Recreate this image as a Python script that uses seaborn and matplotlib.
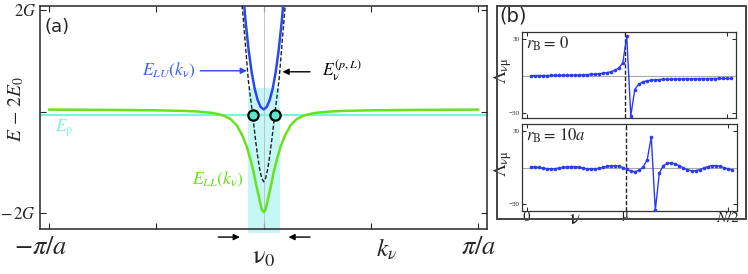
import numpy as np
import pandas as pd
import matplotlib
matplotlib.use('Agg')
import matplotlib.pyplot as plt
import seaborn as sns
from matplotlib.patches import Rectangle

sns.set_style('ticks')
plt.rcParams['font.family'] = ['Liberation Serif', 'DejaVu Serif']
plt.rcParams['mathtext.fontset'] = 'stix'

# ---------------- Panel (a) data (k >= 0 half, curves are symmetric about nu0) -------------
k_LL = [0, 0.026, 0.054, 0.103, 0.147, 0.191, 0.25, 0.308, 0.396, 0.484, 0.587, 0.734, 0.954, 1.174, 1.615, 2.202, 3.142]
E_LL = [-1.980, -1.937, -1.777, -1.482, -1.192, -0.956, -0.680, -0.483, -0.266, -0.148, -0.079, -0.030, 0.0, 0.014, 0.026, 0.033, 0.039]
k_LU = [0, 0.044, 0.088, 0.132, 0.176, 0.220, 0.264, 0.294]
E_LU = [0.043, 0.089, 0.227, 0.453, 0.778, 1.212, 1.764, 2.236]
k_pL = [0, 0.029, 0.059, 0.088, 0.117, 0.161, 0.225, 0.314, 0.33]
E_pL = [-1.383, -1.310, -1.133, -0.877, -0.581, -0.069, 0.621, 2.079, 2.4]
E_rho = -0.069
k_cross = 0.161
band_k = 0.235
band_top, band_bottom = 0.463, -2.394

# ---------------- Panel (b) data -------------
nu = np.arange(1, 52)
mu = 24.6
lam_rB0 = [0.3, 0.3, 0.35, 0.4, 0.4, 0.45, 0.5, 0.5, 0.55, 0.6, 0.7, 0.75, 0.85, 0.95, 1.1, 1.3, 1.5,
           1.8, 2.2, 2.7, 3.4, 4.5, 6.5, 10.5, 32, -32, -11, -6.5, -4.8, -3.9, -3.4, -3.1, -2.9, -2.7,
           -2.6, -2.5, -2.4, -2.35, -2.3, -2.25, -2.2, -2.2, -2.15, -2.1, -2.1, -2.05, -2.05, -2.0,
           -2.0, -2.0, -2.0]
lam_rB10 = [0.6, 0.5, 0.1, -0.4, -0.9, -1.1, -1.0, -0.5, 0.1, 0.6, 0.8, 0.7, 0.3, -0.4, -1.0, -1.2,
            -1.1, -0.6, 0.2, 0.9, 1.4, 1.5, 1.1, 0.0, -1.5, -3.0, -3.3, -2.2, 0.5, 6.5, 25, -35, -4.5,
            1.5, 3.5, 3.7, 3.0, 1.5, -0.3, -1.8, -2.6, -2.6, -1.8, -0.5, 0.8, 1.5, 1.6, 1.0, 0.0,
            -1.0, -1.8]


def mirror(k, e):
    k = np.asarray(k, float)
    e = np.asarray(e, float)
    return np.concatenate([-k[::-1], k[1:]]), np.concatenate([e[::-1], e[1:]])


green = '#66e31a'
blue = '#2a48f0'
cyan_line = '#7ff0dc'
cyan_band = '#c5f7f7'

fig = plt.figure(figsize=(7.48, 2.74), dpi=100)

# ---------------- Panel (a) -------------
ax = fig.add_axes([0.0535, 0.164, 0.598, 0.814])
ax.set_xlim(-1.042 * np.pi, 1.042 * np.pi)
ax.set_ylim(-2.315, 2.08)

ax.add_patch(Rectangle((-band_k, band_bottom), 2 * band_k, band_top - band_bottom,
                       facecolor=cyan_band, edgecolor='none', zorder=0, clip_on=False))
ax.axvline(0, color='#bbbbbb', lw=0.6, zorder=1)
ax.axhline(E_rho, color=cyan_line, lw=1.6, zorder=2)

kx, ey = mirror(k_LL, E_LL)
sns.lineplot(x=kx, y=ey, ax=ax, color=green, lw=1.8, zorder=3)
kx, ey = mirror(k_pL, E_pL)
sns.lineplot(x=kx, y=ey, ax=ax, color='#222222', lw=1.0, zorder=4, linestyle=(0, (3, 1.5)))
kx, ey = mirror(k_LU, E_LU)
sns.lineplot(x=kx, y=ey, ax=ax, color=blue, lw=1.8, zorder=5)
ax.scatter([-k_cross, k_cross], [E_rho, E_rho], s=55, facecolor='#5fe3cc',
           edgecolor='black', linewidth=1.6, zorder=6)

ax.set_xticks([-np.pi, -np.pi / 2, 0, np.pi / 2, np.pi])
ax.set_xticklabels([])
ax.set_yticks([2, 0, -2])
ax.set_yticklabels(['$2G$', '', r'$-\,2G$'], fontsize=12)
ax.tick_params(direction='in', length=4, width=0.8, top=True, right=True, pad=3)
for s in ax.spines.values():
    s.set_linewidth(1.1)
ax.set_xlabel('')
ax.set_ylabel('')
fig.text(0.021, 0.60, r'$E\,-\,2E_0$', rotation=90, fontsize=14, ha='center', va='center')

tr = ax.get_xaxis_transform()
ax.text(-np.pi - 0.13, -0.085, r'$-\pi/a$', transform=tr, ha='center', va='center', fontsize=19)
ax.text(np.pi, -0.085, r'$\pi/a$', transform=tr, ha='center', va='center', fontsize=19)
ax.text(0, -0.13, r'$\mathrm{\nu}_0$', transform=tr, ha='center', va='center', fontsize=19)
ax.text(1.80, -0.09, r'$k_\nu$', transform=tr, ha='center', va='center', fontsize=18)

arr_y = -2.473
ax.annotate('', xy=(-0.308, arr_y), xytext=(-0.705, arr_y), annotation_clip=False,
            arrowprops=dict(arrowstyle='-|>', color='black', lw=1.0, mutation_scale=9))
ax.annotate('', xy=(0.323, arr_y), xytext=(0.719, arr_y), annotation_clip=False,
            arrowprops=dict(arrowstyle='-|>', color='black', lw=1.0, mutation_scale=9))

ax.annotate('', xy=(-0.206, 0.804), xytext=(-0.969, 0.804),
            arrowprops=dict(arrowstyle='-|>', color=blue, lw=1.0, mutation_scale=9))
ax.text(-0.99, 0.804, r'$E_{LU}(k_\mathrm{\nu})$', color='#3d5cf5', ha='right', va='center', fontsize=12.5)
ax.annotate('', xy=(0.235, 0.784), xytext=(0.719, 0.784),
            arrowprops=dict(arrowstyle='-|>', color='black', lw=1.0, mutation_scale=9))
ax.text(0.85, 0.80, r'$E_\mathrm{\nu}^{(p,L)}$', color='black', ha='left', va='center', fontsize=12.5)
ax.text(-3.06, -0.33, r'$E_\mathrm{\rho}$', color=cyan_line, ha='left', va='center', fontsize=12.5)
ax.text(-0.29, -1.33, r'$E_{LL}(k_\mathrm{\nu})$', color=green, ha='right', va='center', fontsize=12.5)

fig.text(0.06, 0.90, '(a)', family='DejaVu Sans', fontsize=13, ha='left', va='center')

# ---------------- Panel (b) -------------
fig.add_artist(Rectangle((0.664, 0.201), 0.333, 0.777, transform=fig.transFigure,
                         fill=False, lw=1.4, edgecolor='#444444'))
fig.text(0.668, 0.942, '(b)', family='DejaVu Sans', fontsize=14, ha='left', va='center')

axb1 = fig.add_axes([0.698, 0.569, 0.286, 0.314])
axb2 = fig.add_axes([0.698, 0.230, 0.287, 0.318])

for axb, lam, ylim, lab in [(axb1, lam_rB0, (-34, 35.5), r'$r_\mathrm{B}=\,0$'),
                            (axb2, lam_rB10, (-35.5, 35.7), r'$r_\mathrm{B}=\,10a$')]:
    axb.set_xlim(-1.1, 52.25)
    axb.set_ylim(*ylim)
    axb.axhline(0, color='#aaaaaa', lw=0.8, zorder=1)
    axb.axvline(mu, color='#222222', lw=1.0, linestyle=(0, (3, 1.5)), zorder=2)
    sns.lineplot(x=nu, y=lam, ax=axb, color='#2b3bef', lw=1.0, marker='o', markersize=2.6,
                 markeredgewidth=0, zorder=3)
    axb.set_xticks([0, mu, 50])
    axb.set_xticklabels([])
    axb.set_yticks([-30, 30])
    axb.set_yticklabels(['\u221230', '30'], fontsize=5)
    axb.tick_params(direction='in', length=3, width=0.7, top=True, right=True, pad=2)
    for s in axb.spines.values():
        s.set_linewidth(0.9)
        s.set_color('#333333')
    axb.set_xlabel('')
    axb.set_ylabel(r'$\mathrm{\Lambda}_{\mathrm{\nu\mu}}$', fontsize=13)
    axb.yaxis.set_label_coords(-0.04, 0.55)
    axb.text(0.02, 0.86, lab, transform=axb.transAxes, ha='left', va='center', fontsize=12)

trb = axb2.get_xaxis_transform()
axb2.text(0, -0.08, '0', transform=trb, ha='center', va='center', fontsize=11)
axb2.text(12, -0.1, r'$\mathrm{\nu}$', transform=trb, ha='center', va='center', fontsize=15)
axb2.text(mu, -0.06, r'$\mathrm{\mu}$', transform=trb, ha='center', va='center', fontsize=9)
axb2.text(50, -0.08, r'$N/2$', transform=trb, ha='center', va='center', fontsize=11)

fig.savefig('out.png', dpi=100)
